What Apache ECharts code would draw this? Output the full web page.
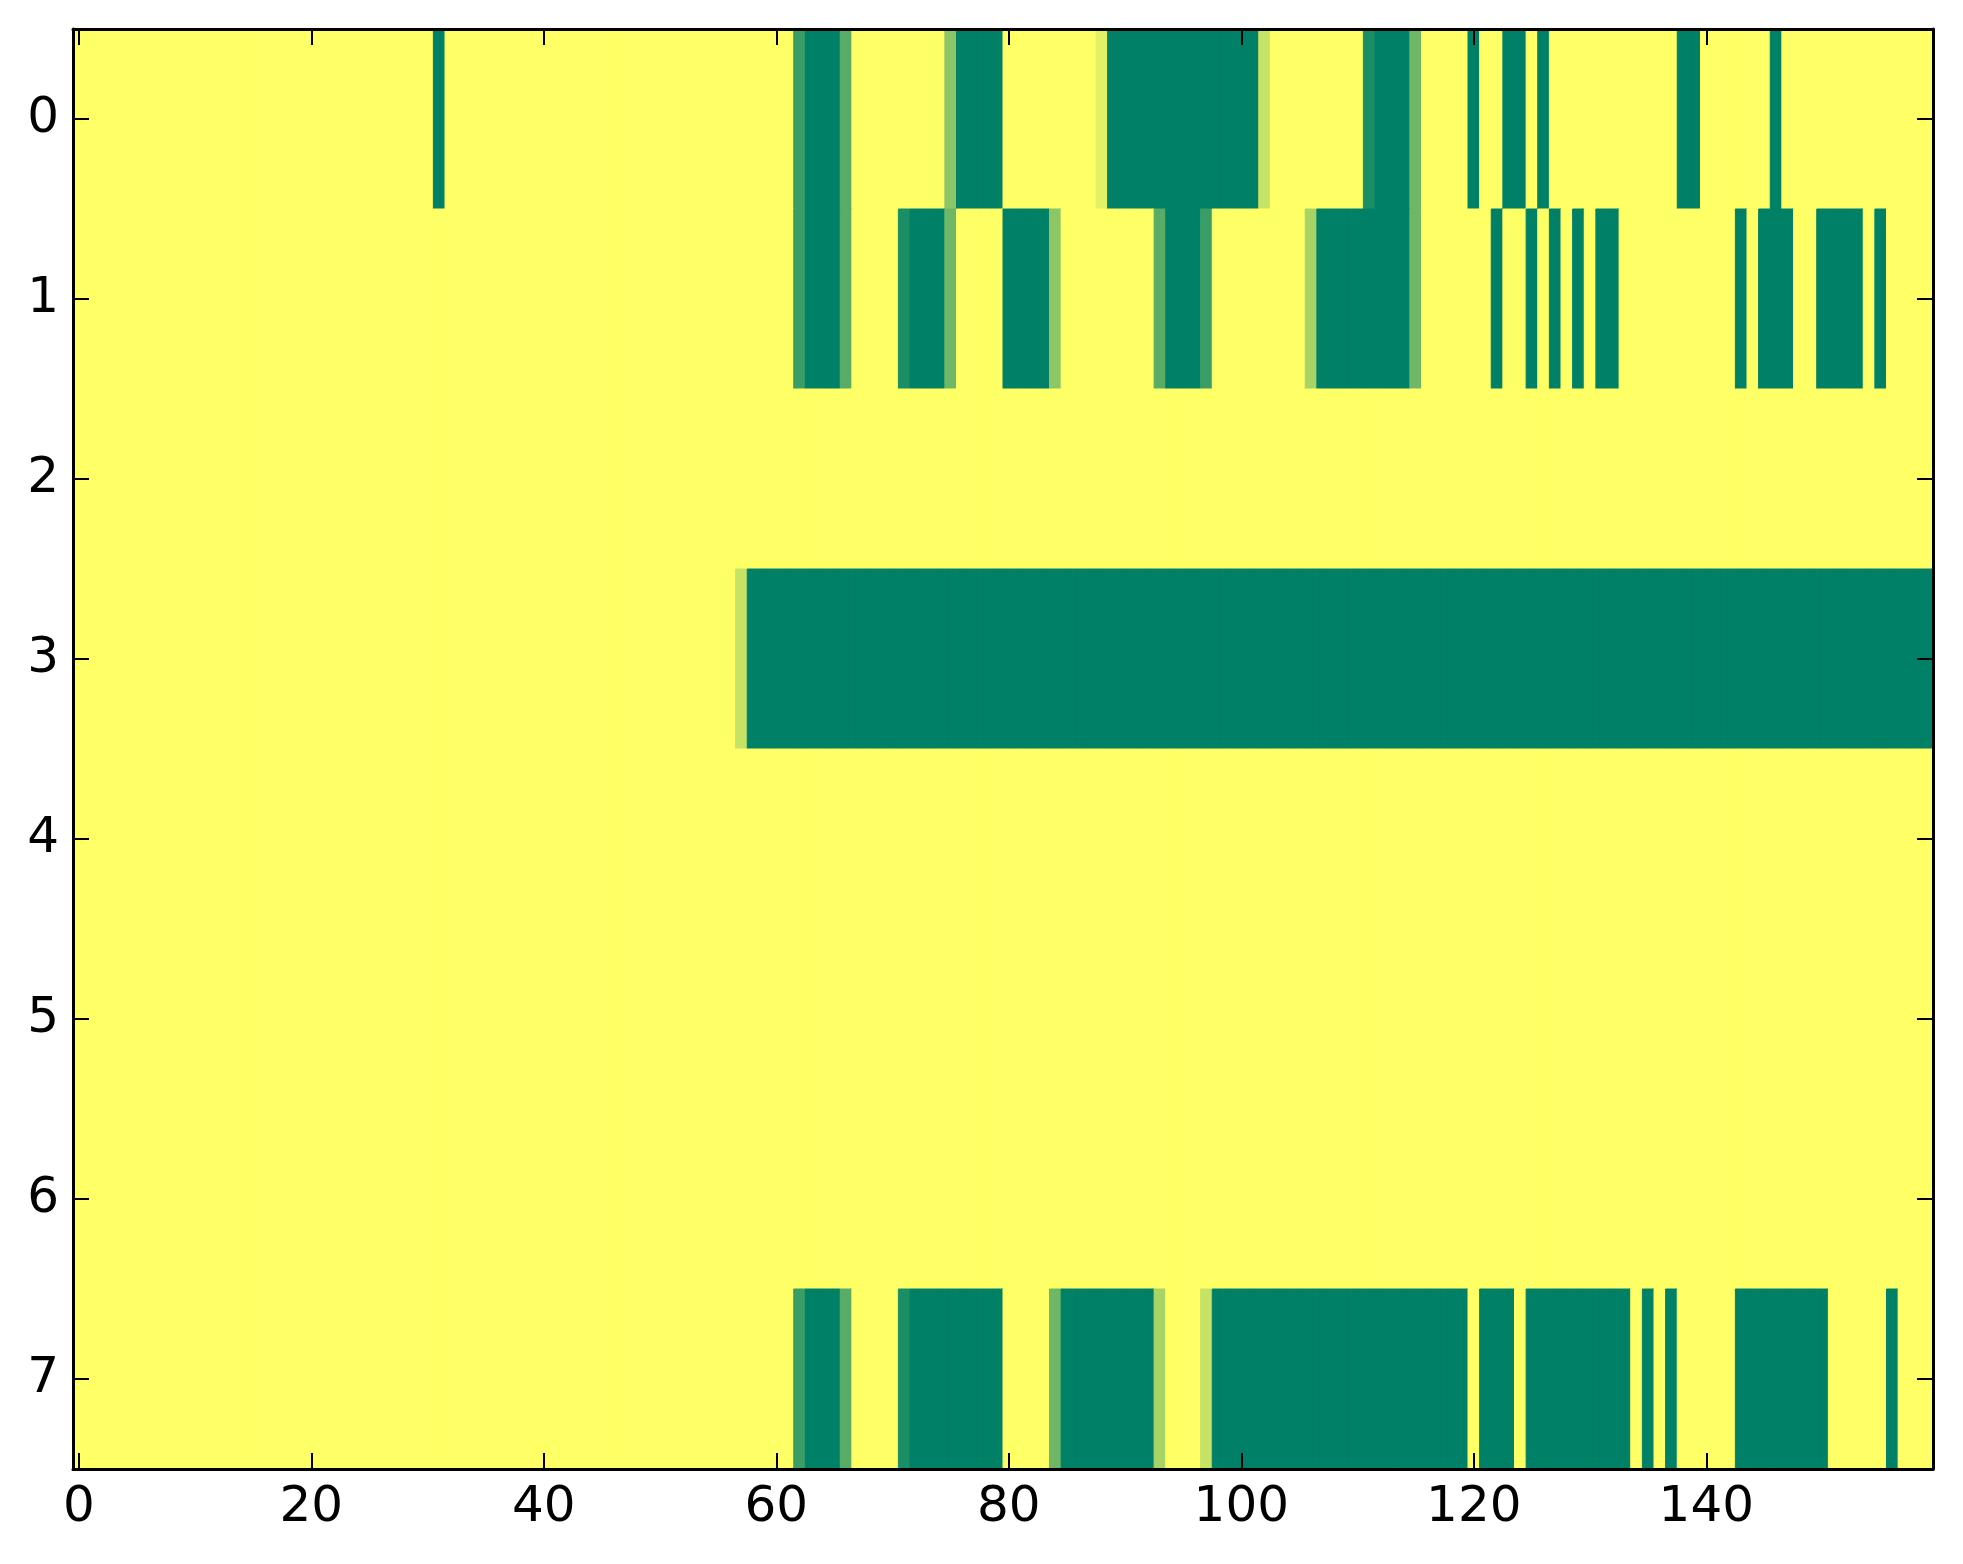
<!DOCTYPE html>
<html><head><meta charset="utf-8">
<script src="https://cdn.jsdelivr.net/npm/echarts@6/dist/echarts.min.js"></script>
<style>html,body{margin:0;padding:0;background:#fff}#c{width:1963px;height:1564px}</style>
</head><body><div id="c"></div>
<script>
// values per row, columns 0..159 (20 per line)
const row0 = [
  0,0,0,0,0,0,0,0,0,0,0,0,0,0,0,0,0,0,0,0,
  0,0,0,0,0,0,0,0,0,0,0,1,0,0,0,0,0,0,0,0,
  0,0,0,0,0,0,0,0,0,0,0,0,0,0,0,0,0,0,0,0,
  0,0,.77,1,1,1,.65,0,0,0,0,0,0,0,0,.45,1,1,1,1,
  0,0,0,0,0,0,0,0,.11,1,1,1,1,1,1,1,1,1,1,1,
  1,1,.22,0,0,0,0,0,0,0,0,.89,1,1,1,.57,0,0,0,0,
  1,0,0,1,1,0,1,0,0,0,0,0,0,0,0,0,0,0,1,1,
  0,0,0,0,0,0,1,0,0,0,0,0,0,0,0,0,0,0,0,0
];
const row1 = [
  0,0,0,0,0,0,0,0,0,0,0,0,0,0,0,0,0,0,0,0,
  0,0,0,0,0,0,0,0,0,0,0,0,0,0,0,0,0,0,0,0,
  0,0,0,0,0,0,0,0,0,0,0,0,0,0,0,0,0,0,0,0,
  0,0,.77,1,1,1,.65,0,0,0,0,.89,1,1,1,.57,0,0,0,0,
  1,1,1,1,.45,0,0,0,0,0,0,0,0,.65,1,1,1,.77,0,0,
  0,0,0,0,0,0,.34,1,1,1,1,1,1,1,1,.57,0,0,0,0,
  0,0,1,0,0,1,0,1,0,1,0,1,1,0,0,0,0,0,0,0,
  0,0,0,1,0,1,1,1,0,0,1,1,1,1,0,1,0,0,0,0
];
const row2 = [
  0,0,0,0,0,0,0,0,0,0,0,0,0,0,0,0,0,0,0,0,
  0,0,0,0,0,0,0,0,0,0,0,0,0,0,0,0,0,0,0,0,
  0,0,0,0,0,0,0,0,0,0,0,0,0,0,0,0,0,0,0,0,
  0,0,0,0,0,0,0,0,0,0,0,0,0,0,0,0,0,0,0,0,
  0,0,0,0,0,0,0,0,0,0,0,0,0,0,0,0,0,0,0,0,
  0,0,0,0,0,0,0,0,0,0,0,0,0,0,0,0,0,0,0,0,
  0,0,0,0,0,0,0,0,0,0,0,0,0,0,0,0,0,0,0,0,
  0,0,0,0,0,0,0,0,0,0,0,0,0,0,0,0,0,0,0,0
];
const row3 = [
  0,0,0,0,0,0,0,0,0,0,0,0,0,0,0,0,0,0,0,0,
  0,0,0,0,0,0,0,0,0,0,0,0,0,0,0,0,0,0,0,0,
  0,0,0,0,0,0,0,0,0,0,0,0,0,0,0,0,0,.22,1,1,
  1,1,1,1,1,1,1,1,1,1,1,1,1,1,1,1,1,1,1,1,
  1,1,1,1,1,1,1,1,1,1,1,1,1,1,1,1,1,1,1,1,
  1,1,1,1,1,1,1,1,1,1,1,1,1,1,1,1,1,1,1,1,
  1,1,1,1,1,1,1,1,1,1,1,1,1,1,1,1,1,1,1,1,
  1,1,1,1,1,1,1,1,1,1,1,1,1,1,1,1,1,1,1,1
];
const row4 = [
  0,0,0,0,0,0,0,0,0,0,0,0,0,0,0,0,0,0,0,0,
  0,0,0,0,0,0,0,0,0,0,0,0,0,0,0,0,0,0,0,0,
  0,0,0,0,0,0,0,0,0,0,0,0,0,0,0,0,0,0,0,0,
  0,0,0,0,0,0,0,0,0,0,0,0,0,0,0,0,0,0,0,0,
  0,0,0,0,0,0,0,0,0,0,0,0,0,0,0,0,0,0,0,0,
  0,0,0,0,0,0,0,0,0,0,0,0,0,0,0,0,0,0,0,0,
  0,0,0,0,0,0,0,0,0,0,0,0,0,0,0,0,0,0,0,0,
  0,0,0,0,0,0,0,0,0,0,0,0,0,0,0,0,0,0,0,0
];
const row5 = [
  0,0,0,0,0,0,0,0,0,0,0,0,0,0,0,0,0,0,0,0,
  0,0,0,0,0,0,0,0,0,0,0,0,0,0,0,0,0,0,0,0,
  0,0,0,0,0,0,0,0,0,0,0,0,0,0,0,0,0,0,0,0,
  0,0,0,0,0,0,0,0,0,0,0,0,0,0,0,0,0,0,0,0,
  0,0,0,0,0,0,0,0,0,0,0,0,0,0,0,0,0,0,0,0,
  0,0,0,0,0,0,0,0,0,0,0,0,0,0,0,0,0,0,0,0,
  0,0,0,0,0,0,0,0,0,0,0,0,0,0,0,0,0,0,0,0,
  0,0,0,0,0,0,0,0,0,0,0,0,0,0,0,0,0,0,0,0
];
const row6 = [
  0,0,0,0,0,0,0,0,0,0,0,0,0,0,0,0,0,0,0,0,
  0,0,0,0,0,0,0,0,0,0,0,0,0,0,0,0,0,0,0,0,
  0,0,0,0,0,0,0,0,0,0,0,0,0,0,0,0,0,0,0,0,
  0,0,0,0,0,0,0,0,0,0,0,0,0,0,0,0,0,0,0,0,
  0,0,0,0,0,0,0,0,0,0,0,0,0,0,0,0,0,0,0,0,
  0,0,0,0,0,0,0,0,0,0,0,0,0,0,0,0,0,0,0,0,
  0,0,0,0,0,0,0,0,0,0,0,0,0,0,0,0,0,0,0,0,
  0,0,0,0,0,0,0,0,0,0,0,0,0,0,0,0,0,0,0,0
];
const row7 = [
  0,0,0,0,0,0,0,0,0,0,0,0,0,0,0,0,0,0,0,0,
  0,0,0,0,0,0,0,0,0,0,0,0,0,0,0,0,0,0,0,0,
  0,0,0,0,0,0,0,0,0,0,0,0,0,0,0,0,0,0,0,0,
  0,0,.77,1,1,1,.65,0,0,0,0,.89,1,1,1,1,1,1,1,1,
  0,0,0,0,.57,1,1,1,1,1,1,1,1,.34,0,0,0,.22,1,1,
  1,1,1,1,1,1,1,1,1,1,1,1,1,1,1,1,1,1,1,1,
  0,1,1,1,0,1,1,1,1,1,1,1,1,1,0,1,0,1,0,0,
  0,0,0,1,1,1,1,1,1,1,1,0,0,0,0,0,1,0,0,0
];
const rows = [row0, row1, row2, row3, row4, row5, row6, row7];
const yCategories = ['0','1','2','3','4','5','6','7'];
const xTickLabels = ['0','20','40','60','80','100','120','140'];
const xCategories = row0.map((_, i) => String(i));

const data = [];
rows.forEach((r, y) => r.forEach((v, x) => data.push([x, y, v])));

const showX = (i) => xTickLabels.includes(xCategories[i]);
const axisLineStyle = { show: true, onZero: false, lineStyle: { color: '#000', width: 3 } };
const tickBase = { show: true, inside: true, length: 16, alignWithLabel: true, lineStyle: { color: '#000', width: 2 } };
const labelStyle = { color: '#000', fontSize: 50, fontFamily: 'DejaVu Sans' };

const chart = echarts.init(document.getElementById('c'), null, { renderer: 'canvas' });
chart.setOption({
  animation: false,
  backgroundColor: '#fff',
  grid: { left: 73, top: 29, width: 1860, height: 1440 },
  xAxis: [
    { type: 'category', data: xCategories, position: 'bottom', z: 10,
      axisLine: axisLineStyle, axisTick: Object.assign({}, tickBase, { interval: (i) => showX(i) }),
      axisLabel: Object.assign({}, labelStyle, { interval: (i) => showX(i), margin: 14 }),
      splitLine: { show: false }, splitArea: { show: false } },
    { type: 'category', data: xCategories, position: 'top', z: 10,
      axisLine: axisLineStyle, axisTick: Object.assign({}, tickBase, { interval: (i) => showX(i) }),
      axisLabel: { show: false }, splitLine: { show: false } }
  ],
  yAxis: [
    { type: 'category', data: yCategories, inverse: true, position: 'left', z: 10,
      axisLine: axisLineStyle, axisTick: Object.assign({}, tickBase, { interval: 0 }),
      axisLabel: Object.assign({}, labelStyle, { interval: 0, margin: 14 }),
      splitLine: { show: false }, splitArea: { show: false } },
    { type: 'category', data: yCategories, inverse: true, position: 'right', z: 10,
      axisLine: axisLineStyle, axisTick: Object.assign({}, tickBase, { interval: 0 }),
      axisLabel: { show: false }, splitLine: { show: false } }
  ],
  visualMap: { show: false, type: 'continuous', min: 0, max: 1, dimension: 2, seriesIndex: 0,
    inRange: { color: ['#ffff66', '#008066'] } },
  series: [{
    type: 'custom', xAxisIndex: 0, yAxisIndex: 0, data: data,
    encode: { x: 0, y: 1 }, clip: true, progressive: 0,
    renderItem: function (params, api) {
      const c = api.coord([api.value(0), api.value(1)]);
      const s = api.size([1, 1]);
      const color = api.visual('color');
      return {
        type: 'rect',
        shape: { x: c[0] - s[0] / 2, y: c[1] - s[1] / 2, width: s[0], height: s[1] },
        style: { fill: color, stroke: color, lineWidth: 1 }
      };
    }
  }]
});
</script></body></html>
